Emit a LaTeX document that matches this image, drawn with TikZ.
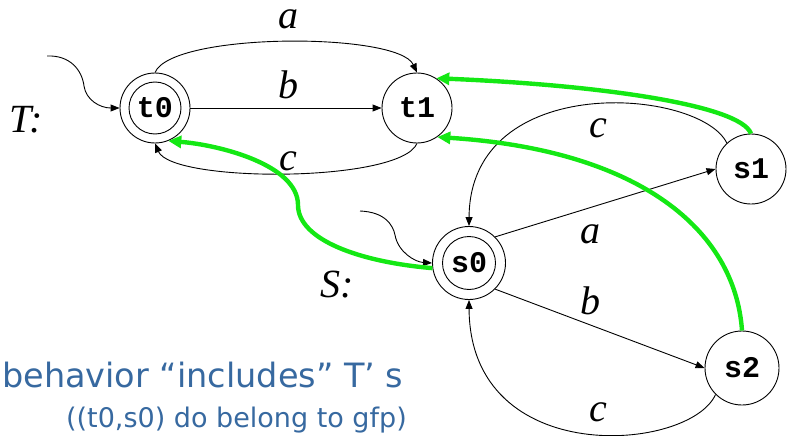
\documentclass[tikz,border=0pt]{standalone}
\usepackage{fontspec}
\setmainfont{Liberation Serif}
\newfontfamily\monofnt{Liberation Mono}
\newfontfamily\sansfnt{DejaVu Sans}
\usetikzlibrary{arrows.meta}
\definecolor{hlgreen}{RGB}{20,232,20}
\definecolor{slideblue}{RGB}{55,105,160}
\begin{document}
\begin{tikzpicture}[x=1pt,y=-1pt,
  state/.style={circle,draw,line width=0.9pt,minimum size=70pt,inner sep=0pt,font=\monofnt\bfseries\fontsize{30}{30}\selectfont},
  bigstate/.style={state,minimum size=73pt},
  edge/.style={line width=0.9pt,-{Triangle[length=9pt,width=7pt]}},
  sim/.style={line width=4.4pt,hlgreen,-{Triangle[length=13pt,width=12pt]}},
  lab/.style={font=\itshape\fontsize{40}{40}\selectfont,inner sep=0pt},
  sysname/.style={font=\itshape\fontsize{40}{40}\selectfont,inner sep=0pt},
  note/.style={font=\sansfnt,text=slideblue,inner sep=0pt}]
\useasboundingbox (0,0) rectangle (787,436);
% T
\node[state] (t0) at (155,108) {t0};
\draw[line width=0.9pt] (t0.center) circle[radius=26pt];
\node[state] (t1) at (417,108) {t1};
\node[sysname] (Tl) at (26,120) {T:};
\coordinate (iT) at (47,56);
\coordinate (iTm) at (84,86);
\draw[edge] (iT) .. controls (70,55) and (82,70) .. (iTm) .. controls (86,100) and (100,108) .. (t0.west);
\draw[edge] (t0.north) .. controls (172,32) and (398,32) .. (t1.north);
\draw[edge] (t0.east) -- (t1.west);
\draw[edge] (t1.south) .. controls (400,183) and (172,183) .. (t0.south);
\node[lab,anchor=base] (la) at (288,29) {a};
\node[lab] (lb) at (288,85) {b};
\node[lab] (lc) at (288,161) {c};
% S
\node[bigstate] (s0) at (469,263) {s0};
\draw[line width=0.9pt] (s0.center) circle[radius=26.5pt];
\node[state] (s1) at (751,169) {s1};
\node[state,minimum size=74pt] (s2) at (742,368) {s2};
\node[sysname] (Sl) at (337,285) {S:};
\coordinate (iS) at (360,211);
\coordinate (iSm) at (395,235);
\draw[edge] (iS) .. controls (385,212) and (393,225) .. (iSm) .. controls (398,252) and (415,262) .. (s0.west);
\draw[edge] (s0.45) -- (s1.west);
\draw[edge] (s0.-45) -- (s2.west);
\draw[edge] (s1.133) .. controls (700,88) and (470,70) .. (s0.north);
\draw[edge] (s2.225) .. controls (690,452) and (470,470) .. (s0.south);
\node[lab] (sa) at (590,234) {a};
\node[lab] (sb) at (590,301) {b};
\node[lab] (sc1) at (598,128) {c};
\node[lab] (sc2) at (598,412) {c};
% green simulation links
\coordinate (gm) at (298,205);
\draw[sim] (s1.north) .. controls (740,105) and (600,85) .. (t1.57);
\draw[sim] (s2.north) .. controls (735,230) and (640,150) .. (t1.-55);
\draw[sim] (s0.188) .. controls (360,262) and (298,240) .. (gm) .. controls (298,165) and (220,145) .. (t0.-68);
% note
\node[note,anchor=base west,font=\sansfnt\fontsize{33.5}{33.5}\selectfont] (n1) at (2,387) {behavior “includes” T’ s};
\node[note,anchor=base east,font=\sansfnt\fontsize{27}{27}\selectfont] (n2) at (407,427) {((t0,s0) do belong to gfp)};
\end{tikzpicture}
\end{document}
